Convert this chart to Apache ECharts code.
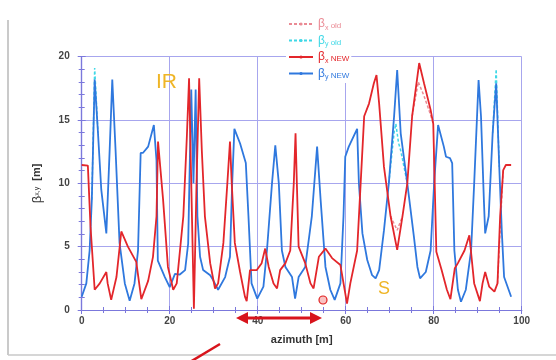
<!DOCTYPE html>
<html><head><meta charset="utf-8">
<script src="https://cdn.jsdelivr.net/npm/echarts@6/dist/echarts.min.js"></script>
<style>html,body{margin:0;padding:0;background:#fff}#c{width:556px;height:360px}</style>
</head><body><div id="c"></div>
<script>
// ---- data (azimuth [m], beta [m]) ----
const bxNewS = [0,1.4,1.7,2.0,2.95,4.1,5.6,5.9,6.7,7.9,9.0,10.5,12.4,12.7,13.55,15.1,16.2,17.0,17.35,18.5,19.6,20.8,21.6,23.1,23.9,24.4,24.9,25.5,26.1,26.7,27.3,28.0,29.2,30.3,31.0,32.2,33.1,33.7,34.1,34.8,36.0,37.1,37.5,38.25,39.8,40.9,41.7,42.5,43.6,44.4,45.1,46.3,47.4,48.2,48.6,48.9,49.3,50.8,52.0,52.7,53.9,55.4,56.9,58.8,60.3,61.05,62.6,63.4,64.2,65.3,66.4,67.0,67.6,68.7,70.2,71.7,72.9,74.0,75.1,76.7,77.8,79.3,79.9,80.6,81.8,83.0,83.8,84.8,85.5,87.0,88.1,88.4,89.2,90.5,91.1,91.7,92.6,93.8,94.5,95.1,95.8,96.4,97.6];
const bxNewV = [11.45,11.4,11.3,6.6,1.6,2.1,3.0,2.1,0.8,2.6,6.2,5.0,3.8,3.7,0.85,2.3,4.2,7.4,13.3,8.7,3.4,1.6,2.1,7.4,13.7,18.3,10,0.1,10,18.3,12.6,7.4,3.7,1.7,2.1,5.3,10,13.3,10,5.3,3.0,1.05,0.7,3.15,3.15,3.7,4.85,3.4,2.1,1.7,3.15,3.7,4.7,10,13.95,10,5.0,3.7,2.1,1.7,4.2,4.85,4.1,3.55,0.5,2.1,4.7,10,15.3,16.3,17.9,18.55,16.3,11.3,7.4,4.75,7.4,10,15.3,19.5,17.9,15.8,14.7,4.6,3.15,1.6,0.85,3.3,3.7,4.7,5.9,6.05,2.1,0.7,2.1,3.0,1.85,1.45,2.1,7.4,11.05,11.45,11.45];

const byNewS = [0,1.05,1.8,2.3,2.95,3.7,4.45,5.6,6.35,6.95,7.7,8.6,9.8,10.9,12.0,12.8,13.4,13.9,15.1,16.4,17.0,17.3,18.9,20.0,21.2,22.3,23.5,24.2,24.9,25.4,25.9,26.3,26.9,27.6,29.2,29.8,31.0,32.6,33.7,34.2,34.7,36.0,37.3,37.9,38.6,39.9,41.3,42.1,43.25,44.0,44.8,45.5,46.3,47.8,48.5,49.3,50.8,52.3,53.5,54.3,55.4,56.5,57.5,58.8,59.5,59.9,60.7,62.6,63.0,63.8,64.9,66.0,66.8,67.6,68.7,69.8,71.0,71.7,72.5,74.0,75.5,76.3,76.9,78.2,79.3,80.1,81.0,82.3,82.8,83.7,84.2,84.7,85.5,86.2,87.3,88.5,89.2,90.2,90.75,91.4,91.7,92.5,93.4,94.2,94.9,95.5,96.0,97.6];
const byNewV = [1.05,2.1,4.7,8.7,18.2,14,9.5,6.05,12.6,18.2,12.6,5.3,2.1,0.73,2.1,4.7,12.4,12.4,12.9,14.6,11.8,3.9,2.6,1.8,2.85,2.8,3.15,5.25,17.4,10,17.4,7.4,4.2,3.15,2.75,2.4,1.6,2.6,4.2,10,14.3,13.15,11.6,7.4,2.1,0.9,1.85,4.7,10,13.0,10,4.7,3.4,2.6,0.9,2.6,3.4,7.4,12.9,8.7,3.4,1.6,0.8,2.1,7.4,12.1,12.9,14.3,10,6.05,3.95,2.75,2.5,3.15,6.3,10,15.3,18.95,13.95,10,5.8,3.4,2.5,3.0,4.7,10,14.6,12.9,12.1,12.0,11.6,4.7,1.6,0.65,1.6,4.7,10,18.15,15.3,8.7,6.05,7.4,13.95,17.9,11.3,6.05,2.6,1.05];

// old optics: only the stretches where they differ from NEW (null = break)
const bxOldS = [70.2,71.7,72.9,null,75.1,76.5,77.8,79.3,79.9,null,94.5,95.0,95.8];
const bxOldV = [7.4,6.3,7.4,null,15.3,18.0,16.9,15.4,14.7,null,2.1,5.6,11.05];
const byOldS = [2.3,2.95,3.7,null,69.8,71.0,71.4,72.0,72.5,74.0,null,93.4,94.2,94.9];
const byOldV = [8.7,19.1,14,null,10,14.0,14.7,13.2,12.6,10,null,13.95,19.0,11.3];

const xTicks = [0,20,40,60,80,100];
const yTicks = [0,5,10,15,20];

// ---- build ----
function pairs(s, v){ return s.map((x,i)=>[x,v[i]]); }
function segments(s, v){
  const out=[]; let cur=[];
  s.forEach((x,i)=>{ if(x===null){ if(cur.length) out.push(cur); cur=[]; } else cur.push([x,v[i]]); });
  if(cur.length) out.push(cur); return out;
}
const RED='#e3262b', BLUE='#2f78de', PINK='#ea8a94', CYAN='#3fd8e6';
const series=[];
segments(bxOldS,bxOldV).forEach(seg=>series.push({name:'bx_old',type:'line',data:seg,showSymbol:false,symbol:'none',z:2,
  lineStyle:{color:PINK,width:1.5,type:[3,2]},itemStyle:{color:PINK}}));
segments(byOldS,byOldV).forEach(seg=>series.push({name:'by_old',type:'line',data:seg,showSymbol:false,symbol:'none',z:2,
  lineStyle:{color:CYAN,width:1.5,type:[3,2]},itemStyle:{color:CYAN}}));
series.push({name:'by_new',type:'line',data:pairs(byNewS,byNewV),showSymbol:false,symbol:'circle',symbolSize:3,z:3,
  lineStyle:{color:BLUE,width:1.8},itemStyle:{color:BLUE}});
series.push({name:'bx_new',type:'line',data:pairs(bxNewS,bxNewV),showSymbol:false,symbol:'circle',symbolSize:3,z:4,
  lineStyle:{color:RED,width:1.8},itemStyle:{color:RED}});

const AX='#7b78dc', GRID='#a7a6ee';
const labels={bx_old:['x',' old'],by_old:['y',' old'],bx_new:['x',' NEW'],by_new:['y',' NEW']};
const rich={b:{fontSize:12,fontFamily:'Liberation Sans'},s:{fontSize:7,padding:[8,0,0,0],fontFamily:'Liberation Sans'},t:{fontSize:8,padding:[4,0,0,0],fontFamily:'Liberation Sans'}};

const chart=echarts.init(document.getElementById('c'),null,{renderer:'canvas'});
chart.setOption({
  animation:false,
  backgroundColor:'#fff',
  grid:{left:81.7,right:34.3,top:56.7,bottom:50},
  legend:{orient:'vertical',left:286,top:16,itemGap:3,itemWidth:24,itemHeight:4,backgroundColor:'#fff',padding:[2,2,2,2],
    data:[{name:'bx_old',textStyle:{color:PINK}},{name:'by_old',textStyle:{color:CYAN}},{name:'bx_new',textStyle:{color:RED}},{name:'by_new',textStyle:{color:BLUE}}],
    formatter:n=>'{b|β}{s|'+labels[n][0]+'}{t|'+labels[n][1]+'}',
    textStyle:{rich:rich,fontFamily:'Liberation Sans'}},
  xAxis:[{type:'value',min:0,max:100,interval:20,position:'bottom',
    name:'azimuth [m]',nameLocation:'middle',nameGap:24,nameTextStyle:{fontFamily:'Liberation Sans',fontSize:11,fontWeight:'bold',color:'#333'},
    axisLine:{lineStyle:{color:AX,width:1.2}},axisTick:{inside:true,length:4,lineStyle:{color:AX}},
    minorTick:{show:true,splitNumber:4,length:3,lineStyle:{color:AX}},
    axisLabel:{margin:6,fontSize:10,fontWeight:'bold',color:'#444',fontFamily:'Liberation Sans',formatter:v=>xTicks.includes(v)?String(v):''},
    splitLine:{show:true,lineStyle:{color:GRID,width:1}}},
   {type:'value',min:0,max:100,interval:20,position:'top',
    axisLine:{lineStyle:{color:AX,width:1.2}},axisTick:{inside:true,length:4,lineStyle:{color:AX}},
    minorTick:{show:true,splitNumber:4,length:3,lineStyle:{color:AX}},axisLabel:{show:false},splitLine:{show:false}}],
  yAxis:[{type:'value',min:0,max:20,interval:5,position:'left',
    name:'{b|β}{s|x,y}{t|  [m]}',nameLocation:'middle',nameGap:38,
    nameTextStyle:{color:'#333',rich:{b:{fontSize:13,color:'#333',fontFamily:'Liberation Sans'},s:{fontSize:7,color:'#333',padding:[0,0,0,0],fontFamily:'Liberation Sans'},t:{fontSize:11,fontWeight:'bold',color:'#333',fontFamily:'Liberation Sans'}}},
    axisLine:{lineStyle:{color:AX,width:1.2}},axisTick:{inside:true,length:4,lineStyle:{color:AX}},
    minorTick:{show:true,splitNumber:5,length:3,lineStyle:{color:AX}},
    axisLabel:{margin:12,fontSize:10,fontWeight:'bold',color:'#444',fontFamily:'Liberation Sans',formatter:v=>yTicks.includes(v)?String(v):''},
    splitLine:{show:true,lineStyle:{color:GRID,width:1}}},
   {type:'value',min:0,max:20,interval:5,position:'right',
    axisLine:{show:true,lineStyle:{color:AX,width:1.2}},axisTick:{show:true,inside:true,length:4,lineStyle:{color:AX}},
    minorTick:{show:true,splitNumber:5,length:3,lineStyle:{color:AX}},axisLabel:{show:false},splitLine:{show:false}}],
  series:series,
  graphic:[
    {type:'line',shape:{x1:8,y1:20,x2:8,y2:355},style:{stroke:'#b9b9b9',lineWidth:1.5},silent:true},
    {type:'line',shape:{x1:8,y1:355,x2:556,y2:355},style:{stroke:'#c9c9c9',lineWidth:1.5},silent:true},
    {type:'text',left:156,top:72,style:{text:'IR',fontSize:21,fontFamily:'Liberation Sans',fill:'#efb526'},z:10},
    {type:'text',left:378,top:280,style:{text:'S',fontSize:18,fontFamily:'Liberation Sans',fill:'#efb526'},z:10},
    {type:'circle',shape:{cx:323,cy:300,r:4},style:{fill:'rgba(240,120,120,0.45)',stroke:'#e02020',lineWidth:1.2},z:10},
    {type:'line',shape:{x1:244,y1:318,x2:314,y2:318},style:{stroke:'#d8141c',lineWidth:3},z:10},
    {type:'polygon',shape:{points:[[236,318],[248,312],[248,324]]},style:{fill:'#d8141c'},z:10},
    {type:'polygon',shape:{points:[[322,318],[310,312],[310,324]]},style:{fill:'#d8141c'},z:10},
    {type:'line',shape:{x1:190,y1:362,x2:220,y2:344},style:{stroke:'#d8141c',lineWidth:2.5},z:10}
  ]
});
</script></body></html>
